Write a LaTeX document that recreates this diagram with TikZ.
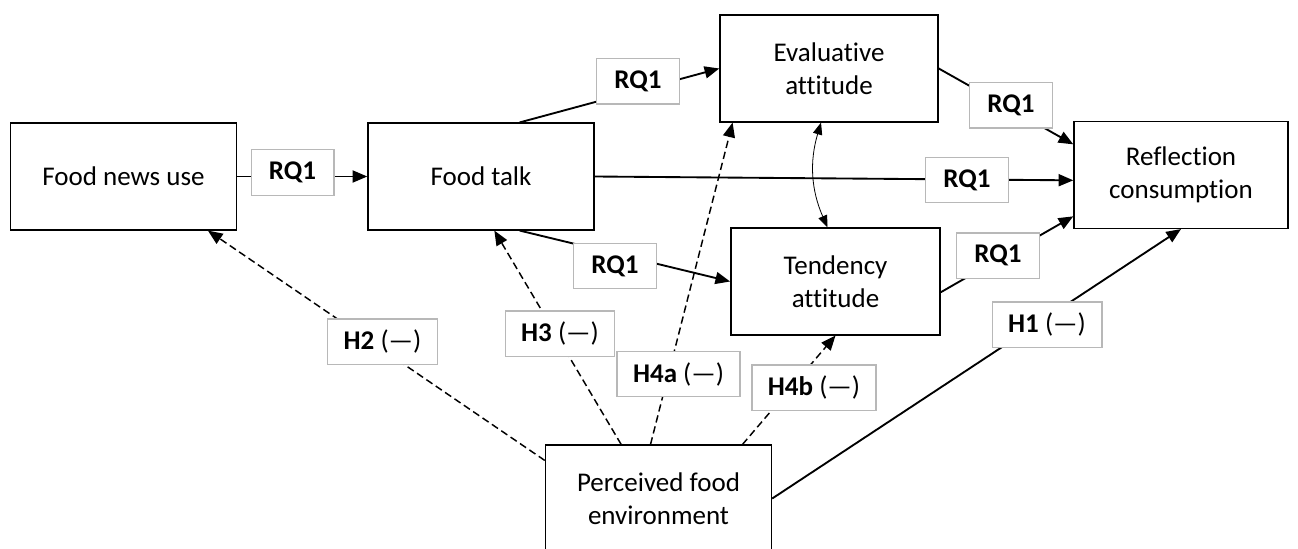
\documentclass[tikz,border=0pt]{standalone}
\usepackage{fontspec}
\setmainfont{Carlito}[Ligatures={TeX,NoCommon}]
\usetikzlibrary{arrows.meta}

\begin{document}
\begin{tikzpicture}[
    x=0.75pt, y=-0.75pt,
    every node/.style={font=\fontsize{20.25}{25}\selectfont},
    block/.style={rectangle, draw=black, fill=white, minimum width=160pt,
                  minimum height=80pt, align=center, line width=1.1pt, inner sep=2pt},
    wide/.style={minimum width=169.5pt},
    tag/.style={rectangle, draw=black!28, fill=white, minimum width=62pt,
                minimum height=34pt, inner xsep=12pt, line width=1pt},
    arr/.style={-{Triangle[length=11pt, width=9pt]}, line width=1.4pt},
    darr/.style={arr, line width=1.1pt, dash pattern=on 5.5pt off 3pt},
    both/.style={{Triangle[length=9pt, width=7pt]}-{Triangle[length=9pt, width=7pt]}, line width=0.6pt},
]
\useasboundingbox (0,0) rectangle (1298,549);

\node[block, wide] (news) at (123.5,176.5) {Food news use};
\node[block, wide] (talk) at (481,176.5) {Food talk};
\node[block, minimum width=163.5pt] (eval) at (829,68.5) {Evaluative\\attitude};
\node[block, minimum width=157pt] (tend) at (835.5,281.5) {Tendency\\attitude};
\node[block, minimum width=160.5pt] (refl) at (1181,175) {Reflection\\consumption};
\node[block, wide] (env) at (658.5,498.5) {Perceived food\\environment};

\draw[arr] (news) -- (talk);
\draw[arr] ([xshift=29pt]talk.north) -- (eval.west);
\draw[arr] ([xshift=29pt]talk.south) -- (tend.west);
\draw[arr] (talk.east) -- ([yshift=-4pt]refl.west);
\draw[arr] (eval.east) -- ([yshift=23pt]refl.west);
\draw[arr] ([yshift=-8pt]tend.east) -- ([yshift=-31pt]refl.west);
\draw[both] ([xshift=-6pt]eval.south) to[bend right=20] ([xshift=-6pt]tend.north);
\draw[darr] ([yshift=-12pt]env.north west) -- ([xshift=-22pt]news.south east);
\draw[darr] ([xshift=-28pt]env.north) -- ([xshift=10pt]talk.south);
\draw[darr] ([xshift=-6pt]env.north) -- ([xshift=10pt]eval.south west);
\draw[darr] ([xshift=63pt]env.north) -- (tend.south);
\draw[arr] (env.east) -- (refl.south);

\node[tag] (q1) at (292.5,172.5) {\textbf{RQ1}};
\node[tag] (q2) at (638,81.5) {\textbf{RQ1}};
\node[tag] (q3) at (615,266) {\textbf{RQ1}};
\node[tag] (q4) at (967,180) {\textbf{RQ1}};
\node[tag] (q5) at (1011,105.5) {\textbf{RQ1}};
\node[tag] (q6) at (998,255.5) {\textbf{RQ1}};
\node[tag] (h2) at (382.5,341.5) {\textbf{H2} (---)};
\node[tag] (h3) at (560,333.5) {\textbf{H3} (---)};
\node[tag] (h4a) at (678.5,374) {\textbf{H4a} (---)};
\node[tag] (h4b) at (814,387.5) {\textbf{H4b} (---)};
\node[tag] (h1) at (1047,324.5) {\textbf{H1} (---)};

\end{tikzpicture}
\end{document}
